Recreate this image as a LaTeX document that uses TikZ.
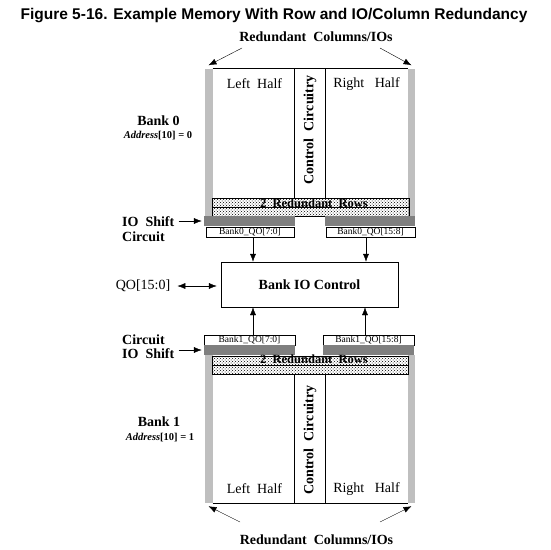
\documentclass[tikz,border=0pt]{standalone}
\usepackage{fontspec}
\setmainfont{Liberation Serif}
\newfontfamily\titelschrift{Liberation Sans}
\usetikzlibrary{arrows.meta,patterns}
\definecolor{hellgrau}{HTML}{BFBFBF}
\definecolor{dunkelgrau}{HTML}{7F7F7F}
\newcommand{\gr}[1]{\fontsize{#1}{#1}\selectfont}

\begin{document}
\begin{tikzpicture}[x=1pt, y=-1pt, every node/.style={inner sep=1pt},
    balken/.style={fill=hellgrau, minimum width=8pt, minimum height=148pt, inner sep=0pt},
    schieber/.style={fill=dunkelgrau, minimum width=91pt, minimum height=10pt, inner sep=0pt},
    qobox/.style={draw, fill=white, minimum height=10pt, inner sep=0pt, font=\gr{9.5}},
    zeilen/.style={draw, pattern=crosshatch dots, minimum width=197pt, minimum height=18pt, inner sep=0pt},
    fett/.style={font=\gr{14}\bfseries},
    pfeil/.style={-{Latex[length=8pt,width=6pt]}}]
    \useasboundingbox (0,0) rectangle (551,549);

    \node[font=\titelschrift\gr{15.5}\bfseries] (titel) at (274,16) {Figure 5-16. Example Memory With Row and IO/Column Redundancy};
    \node[fett] (roben) at (316,37) {Redundant~~Columns/IOs};
    \coordinate (ol) at (242,48);
    \coordinate (or) at (380,48);

    % Bank 0
    \node[balken] (g0l) at (208.5,142.5) {};
    \node[balken, minimum width=7pt] (g0r) at (411.5,142.5) {};
    \draw (g0l.north east) -- (g0r.north west);
    \draw (294.5,68.5) -- (294.5,198) (325,68.5) -- (325,198);
    \node[font=\gr{14}] at (254.5,84) {Left~~Half};
    \node[font=\gr{14}] at (366.5,84) {Right~~~Half};
    \node[fett, rotate=90] at (310,130) {Control~~Circuitry};
    \node[zeilen] (z0) at (310.5,207) {};
    \draw (z0.west) -- (z0.east);
    \node[font=\gr{12.5}\bfseries] at (314,203) {2~~Redundant~~Rows};
    \node[schieber] (s0l) at (249.5,221) {};
    \node[schieber, minimum width=90pt] (s0r) at (370,221) {};
    \node[qobox, minimum width=88pt] (q0l) at (250,232) {Bank0\_QO[7:0]};
    \node[qobox, minimum width=89pt] (q0r) at (370.5,232) {Bank0\_QO[15:8]};

    \node[fett] (bank0) at (158.5,121) {Bank 0};
    \node[font=\gr{10.5}\bfseries] (adr0) at (158,136) {\textit{Address}[10] = 0};
    \node[fett, anchor=west] (io0) at (121,222) {IO~~Shift};
    \node[fett, anchor=west] (ci0) at (121,237) {Circuit};

    % Bank IO Control
    \node[draw, fett, minimum width=177pt, minimum height=45pt] (ioc) at (309.5,284.5) {Bank IO Control};
    \node[font=\gr{14}] (qo) at (143,286) {QO[15:0]};

    % Bank 1
    \node[qobox, minimum width=91pt] (q1l) at (249.5,340) {Bank1\_QO[7:0]};
    \node[qobox, minimum width=91pt] (q1r) at (368.5,340) {Bank1\_QO[15:8]};
    \node[schieber] (s1l) at (249.5,350) {};
    \node[schieber] (s1r) at (368.5,350) {};
    \node[balken] (g1l) at (208.5,429) {};
    \node[balken, minimum width=7pt] (g1r) at (411.5,429) {};
    \node[zeilen, minimum width=196pt] (z1) at (310,365) {};
    \draw (z1.west) -- (z1.east);
    \node[font=\gr{12.5}\bfseries] at (314,359) {2~~Redundant~~Rows};
    \draw (g1l.south east) -- (g1r.south west);
    \draw (294.5,374) -- (294.5,503) (325,374) -- (325,503);
    \node[fett, rotate=90] at (310,440) {Control~~Circuitry};
    \node[font=\gr{14}] at (254.5,489) {Left~~Half};
    \node[font=\gr{14}] at (366.5,489) {Right~~~Half};

    \node[fett] (bank1) at (159,422) {Bank 1};
    \node[font=\gr{10.5}\bfseries] (adr1) at (160,438) {\textit{Address}[10] = 1};
    \node[fett, anchor=west] (ci1) at (121,340) {Circuit};
    \node[fett, anchor=west] (io1) at (121,354) {IO~~Shift};

    \node[fett] (runten) at (316.5,540) {Redundant~~Columns/IOs};
    \coordinate (ul) at (240,522);
    \coordinate (ur) at (380,522);

    % Pfeile
    \draw[pfeil] (ol) -- ([yshift=3pt]g0l.north);
    \draw[pfeil] (or) -- ([yshift=3pt]g0r.north);
    \draw[pfeil] (ul) -- ([yshift=-3pt]g1l.south);
    \draw[pfeil] (ur) -- ([yshift=-3pt]g1r.south);
    \draw[pfeil] ([xshift=3pt]q0l.south) -- ([xshift=3pt]q0l.south |- ioc.north);
    \draw[pfeil] ([xshift=-4.5pt]q0r.south) -- ([xshift=-4.5pt]q0r.south |- ioc.north);
    \draw[pfeil] ([xshift=3.5pt]q1l.north) -- ([xshift=3.5pt]q1l.north |- ioc.south);
    \draw[pfeil] ([xshift=-3.5pt]q1r.north) -- ([xshift=-3.5pt]q1r.north |- ioc.south);
    \draw[{Latex[length=8pt,width=6pt]}-{Latex[length=8pt,width=6pt]}, shorten <=6pt, shorten >=4pt] (qo.east) -- (qo.east -| ioc.west);
    \draw[pfeil, shorten <=3pt, shorten >=2pt] (io0.east |- s0l.west) -- (s0l.west);
    \draw[pfeil, shorten <=3pt, shorten >=2pt] (io1.east |- s1l.west) -- (s1l.west);
\end{tikzpicture}
\end{document}
